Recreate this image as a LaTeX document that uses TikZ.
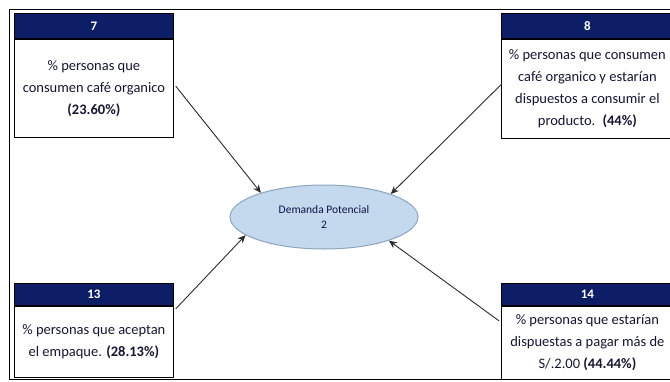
\documentclass[tikz,border=0pt]{standalone}
\usepackage{fontspec}
\setmainfont{Carlito}
\usetikzlibrary{shapes.geometric,arrows.meta}
\definecolor{navy}{RGB}{14,30,102}
\definecolor{inktext}{RGB}{22,22,50}
\definecolor{ellfill}{RGB}{197,217,238}
\definecolor{ellline}{RGB}{140,165,190}
\definecolor{arrline}{RGB}{45,45,45}
\tikzset{
  hdr/.style={draw=black, line width=0.8pt, fill=navy, text=white,
    font=\bfseries\fontsize{13}{15}\selectfont, inner sep=0pt,
    anchor=north west, minimum height=25pt},
  bodybox/.style={draw=black, line width=0.8pt, fill=white, text=inktext,
    font=\fontsize{14.5}{22}\selectfont, align=center, inner sep=0pt,
    anchor=north},
  arr/.style={draw=arrline, line width=0.9pt,
    -{Stealth[length=8pt,width=7pt,inset=2.5pt]}},
  target/.style={ellipse, draw=ellline, line width=1pt, fill=ellfill,
    text=navy!70!black, font=\fontsize{11.5}{15}\selectfont, align=center,
    minimum width=188pt, minimum height=64pt, inner sep=0pt}
}
\begin{document}
\begin{tikzpicture}[x=1pt,y=-1pt]
  \useasboundingbox (0,0) rectangle (670,381);
  \fill[white] (0,0) rectangle (670,381);
  % outer frame
  \draw[black, line width=0.8pt] (9,9) rectangle (690,379);

  % box 7
  \node[hdr, minimum width=159pt] (h7) at (14,13) {7};
  \node[bodybox, minimum width=159pt, minimum height=98pt] (b7) at (h7.south)
    {\% personas que\\consumen café organico\\\textbf{(23.60\%)}};

  % box 8
  \node[hdr, minimum width=172pt] (h8) at (501,13) {8};
  \node[bodybox, minimum width=172pt, minimum height=99pt] (b8) at (h8.south)
    {\% personas que consumen\\café organico y estarían\\dispuestos a consumir el\\producto.\enspace\textbf{(44\%)}};

  % box 13
  \node[hdr, minimum width=159pt, minimum height=22pt] (h13) at (14,283) {13};
  \node[bodybox, minimum width=159pt, minimum height=71pt] (b13) at (h13.south)
    {\% personas que aceptan\\el empaque. \textbf{(28.13\%)}};

  % box 14
  \node[hdr, minimum width=172pt, minimum height=22pt] (h14) at (501,283) {14};
  \node[bodybox, minimum width=172pt, minimum height=73pt] (b14) at (h14.south)
    {\% personas que estarían\\dispuestas a pagar más de\\S/.2.00 \textbf{(44.44\%)}};

  % central ellipse
  \node[target] (dp) at (324,217) {Demanda Potencial\\2};

  % connectors
  \draw[arr] ([xshift=2pt,yshift=2pt]b7.east) -- (dp.159);
  \draw[arr] ([xshift=1pt,yshift=5pt]b8.west) -- (dp.19);
  \draw[arr] ([xshift=2pt,yshift=-3pt]b13.north east) -- (dp.193);
  \draw[arr] ([xshift=-2pt,yshift=-15pt]b14.north west) -- (dp.340);
\end{tikzpicture}
\end{document}
